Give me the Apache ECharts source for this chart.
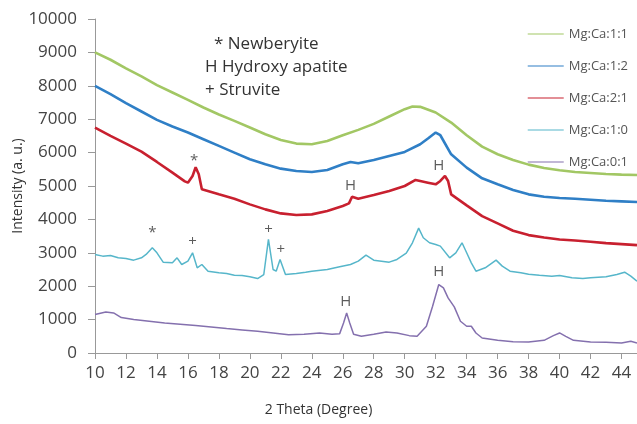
<!DOCTYPE html>
<html><head><meta charset="utf-8">
<script src="https://cdn.jsdelivr.net/npm/echarts@6/dist/echarts.min.js"></script>
<style>html,body{margin:0;padding:0;background:#fff}#c{width:637px;height:424px}</style>
</head><body><div id="c"></div>
<script>
const seriesNames = ['Mg:Ca:1:1','Mg:Ca:1:2','Mg:Ca:2:1','Mg:Ca:1:0','Mg:Ca:0:1'];
const xTicks = [10,12,14,16,18,20,22,24,26,28,30,32,34,36,38,40,42,44];
const yTicks = [0,1000,2000,3000,4000,5000,6000,7000,8000,9000,10000];

const mg11 = [[10,9000],[11,8780],[12,8520],[13,8280],[14,8020],[15,7800],[16,7580],[17,7350],[18,7140],[19,6950],[20,6750],[21,6550],[22,6380],[23,6270],[24,6250],[25,6350],[26,6520],[27,6680],[28,6860],[29,7080],[30,7300],[30.5,7380],[31,7370],[32,7200],[33,6900],[34,6520],[35,6180],[36,5950],[37,5780],[38,5640],[39,5540],[40,5470],[41,5420],[42,5390],[43,5360],[44,5340],[45,5330]];
const mg12 = [[10,8000],[11,7750],[12,7480],[13,7230],[14,6980],[15,6780],[16,6600],[17,6400],[18,6200],[19,6000],[20,5800],[21,5650],[22,5520],[23,5450],[24,5420],[25,5480],[26,5650],[26.5,5720],[27,5680],[28,5780],[29,5900],[30,6020],[31,6250],[31.5,6420],[32,6600],[32.3,6520],[33,5950],[34,5550],[35,5230],[36,5050],[37,4880],[38,4750],[39,4680],[40,4640],[41,4620],[42,4590],[43,4560],[44,4540],[45,4520]];
const mg21 = [[10,6750],[11,6500],[12,6270],[13,6030],[14,5720],[15,5400],[15.8,5140],[16.0,5100],[16.3,5300],[16.5,5560],[16.7,5350],[16.9,4900],[17,4880],[18,4750],[19,4620],[20,4450],[21,4300],[22,4180],[23,4130],[24,4150],[25,4250],[26,4400],[26.4,4480],[26.6,4680],[27,4620],[28,4730],[29,4850],[30,5000],[30.7,5180],[31,5150],[31.5,5100],[32,5050],[32.3,5150],[32.6,5300],[32.8,5150],[33,4750],[34,4420],[35,4100],[36,3880],[37,3660],[38,3530],[39,3460],[40,3400],[41,3370],[42,3330],[43,3290],[44,3260],[45,3230]];
const mg10 = [[10,2950],[10.5,2900],[11,2920],[11.5,2850],[12,2830],[12.5,2780],[13,2850],[13.3,2950],[13.7,3150],[14.0,3000],[14.4,2720],[15,2700],[15.3,2850],[15.6,2650],[16.0,2750],[16.3,3000],[16.6,2550],[16.9,2650],[17.3,2450],[18,2400],[18.5,2380],[19,2330],[19.5,2320],[20,2280],[20.5,2230],[20.9,2350],[21.2,3400],[21.5,2500],[21.7,2450],[21.95,2800],[22.3,2350],[23,2380],[23.6,2420],[24,2450],[25,2500],[25.8,2580],[26.5,2650],[27,2750],[27.5,2930],[28,2780],[28.5,2750],[29,2720],[29.5,2800],[30.1,2990],[30.5,3300],[30.9,3740],[31.2,3450],[31.6,3300],[32.0,3250],[32.3,3200],[32.9,2850],[33.3,3000],[33.7,3300],[34.0,3000],[34.3,2700],[34.6,2450],[35.2,2550],[35.9,2780],[36.3,2600],[36.8,2450],[37.5,2400],[38.0,2360],[38.7,2330],[39.5,2300],[40.0,2320],[40.8,2250],[41.5,2230],[42,2250],[43,2280],[43.7,2350],[44.2,2420],[44.6,2300],[45,2150]];
const mg01 = [[10,1150],[10.7,1230],[11.2,1200],[11.7,1060],[12.5,1000],[13.5,950],[14.5,900],[15.5,860],[16.5,820],[17.5,780],[18.5,730],[19.5,690],[20.5,650],[21.5,600],[22.5,550],[23.5,560],[24.5,600],[25.3,560],[25.8,580],[26.05,900],[26.25,1200],[26.45,900],[26.7,560],[27.2,500],[28.0,560],[28.8,630],[29.5,600],[30.3,520],[30.8,500],[31.4,800],[31.8,1400],[32.2,2050],[32.5,1950],[32.8,1650],[33.2,1380],[33.6,950],[34.0,800],[34.3,800],[34.6,600],[35.0,450],[36,380],[37,340],[38,330],[39,380],[39.6,520],[40.0,600],[40.4,500],[40.9,380],[42,330],[43,320],[44,300],[44.6,350],[45,300]];

const peakMarks = [
  {name:'*', value:[16.4,5760]},
  {name:'H', value:[26.5,5000]},
  {name:'H', value:[32.2,5620]},
  {name:'*', value:[13.7,3600]},
  {name:'+', value:[16.3,3330]},
  {name:'+', value:[21.2,3690]},
  {name:'+', value:[22.0,3090]},
  {name:'H', value:[26.2,1520]},
  {name:'H', value:[32.2,2440]}
];
const keyLines = ['* Newberyite','H Hydroxy apatite','+ Struvite'];

const colors = ['#a2c764','#2f7fc6','#c8202f','#56b6ca','#8470ae'];
const widths = [2.6,2.6,2.6,1.5,1.5];
const datasets = [mg11, mg12, mg21, mg10, mg01];
const FONT = '"Open Sans", "Liberation Sans", sans-serif';

const chart = echarts.init(document.getElementById('c'), null, {renderer:'canvas'});
const series = seriesNames.map((n,i)=>({
  name:n, type:'line', data:datasets[i], showSymbol:false, symbol:'none', smooth:false,
  lineStyle:{color:colors[i], width:widths[i]}, itemStyle:{color:colors[i]}, z:2
}));
series.push({
  name:'marks', type:'scatter', data:peakMarks, symbolSize:0, silent:true, z:5,
  label:{show:true, position:'inside', formatter:p=>p.name, color:'#333', fontSize:15, fontFamily:FONT}
});

chart.setOption({
  animation:false,
  backgroundColor:'#fff',
  grid:{left:95, right:0, top:19, bottom:71, containLabel:false, outerBoundsMode:'none'},
  legend:{
    data:seriesNames, orient:'vertical', right:4, top:20, icon:'rect',
    itemWidth:36, itemHeight:1, itemGap:14,
    textStyle:{color:'#555', fontSize:13, fontFamily:FONT, lineHeight:18}
  },
  xAxis:{
    type:'value', min:10, max:45, interval:2,
    axisLine:{lineStyle:{color:'#999'}},
    axisTick:{show:true, length:6, lineStyle:{color:'#999'}},
    splitLine:{show:false},
    axisLabel:{color:'#444', fontSize:17, fontFamily:FONT, margin:12,
      formatter:v=> xTicks.indexOf(v) >= 0 ? String(v) : ''}
  },
  yAxis:{
    type:'value', min:0, max:10000, interval:1000,
    axisLine:{show:true, lineStyle:{color:'#999'}},
    axisTick:{show:true, length:7, lineStyle:{color:'#999'}},
    splitLine:{show:false},
    axisLabel:{color:'#444', fontSize:17, fontFamily:FONT, margin:18,
      formatter:v=> yTicks.indexOf(v) >= 0 ? String(v) : ''},
    name:'Intensity (a. u.)', nameLocation:'middle', nameGap:70, nameMoveOverlap:false,
    nameTextStyle:{color:'#333', fontSize:14, fontFamily:FONT}
  },
  graphic:[
    {type:'text', left:214, top:36, style:{text:keyLines[0], fill:'#333', font:'17px '+FONT}},
    {type:'text', left:205, top:59, style:{text:keyLines[1], fill:'#333', font:'17px '+FONT}},
    {type:'text', left:205, top:82, style:{text:keyLines[2], fill:'#333', font:'17px '+FONT}},
    {type:'text', left:'center', top:403, x:-18, style:{text:'2 Theta (Degree)', fill:'#333', font:'14px '+FONT}}
  ],
  series:series
});
</script></body></html>
